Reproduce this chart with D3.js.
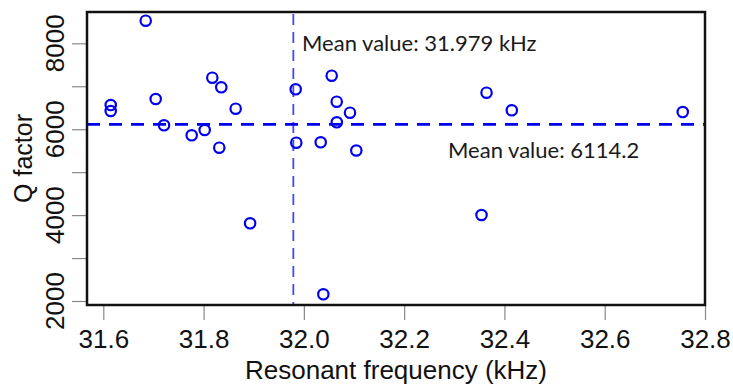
<!DOCTYPE html>
<html>
<head>
<meta charset="utf-8">
<script src="https://cdn.jsdelivr.net/npm/d3@7"></script>
<style>
  body { margin: 0; background: #fff; }
  svg { display: block; }
</style>
</head>
<body>
<div id="chart"></div>
<script>
// resonant frequency (kHz) and Q factor
const freq = [31.6846, 31.6148, 31.6148, 31.7045, 31.7211, 31.8174, 31.8353, 31.8640,
  31.7763, 31.8022, 31.8313, 31.9837, 31.9849, 32.0336, 32.0555, 32.0655, 32.0920,
  32.0657, 32.1046, 31.8928, 32.0388, 32.3543, 32.3643, 32.4147, 32.7556];
const qFactor = [8526, 6563, 6424, 6703, 6091, 7199, 6976, 6477,
  5858, 5981, 5569, 6929, 5686, 5695, 7246, 6640, 6384,
  6161, 5504, 3809, 2156, 4002, 6850, 6440, 6400];

const meanFreq = 31.979;
const meanQ = 6114.2;

const xTicks = [31.6, 31.8, 32.0, 32.2, 32.4, 32.6, 32.8];
const yTicks = [2000, 3000, 4000, 5000, 6000, 7000, 8000];
const yLabels = [2000, 4000, 6000, 8000];

const width = 733, height = 385;
const margin = { top: 12, right: 28, bottom: 80, left: 87 };
const innerW = width - margin.left - margin.right;
const innerH = height - margin.top - margin.bottom;

const svg = d3.select("#chart").append("svg")
  .attr("width", width)
  .attr("height", height);

const x = d3.scaleLinear().domain([31.5675, 32.8]).range([margin.left, margin.left + innerW]);
const y = d3.scaleLinear().domain([1907, 8729]).range([margin.top + innerH, margin.top]);

const data = freq.map((f, i) => ({ f: f, q: qFactor[i] }));

// axes
const xAxis = svg.append("g")
  .attr("transform", `translate(0,${margin.top + innerH})`)
  .call(d3.axisBottom(x).tickValues(xTicks).tickSize(15).tickPadding(10)
    .tickFormat(d3.format(".1f")));
xAxis.select(".domain").remove();
xAxis.selectAll("line").attr("stroke", "#888").attr("stroke-width", 1.2);
xAxis.selectAll("text")
  .attr("font-family", "Liberation Sans, Arial, sans-serif")
  .attr("font-size", 26)
  .attr("fill", "#111")
  .attr("dy", "0.71em");

const yAxis = svg.append("g")
  .attr("transform", `translate(${margin.left},0)`)
  .call(d3.axisLeft(y).tickValues(yTicks).tickSize(15).tickFormat(""));
yAxis.select(".domain").remove();
yAxis.selectAll("line").attr("stroke", "#888").attr("stroke-width", 1.2);

svg.append("g").selectAll("text")
  .data(yLabels)
  .join("text")
  .attr("transform", (d) => `translate(64,${y(d)}) rotate(-90)`)
  .attr("text-anchor", "middle")
  .attr("font-family", "Liberation Sans, Arial, sans-serif")
  .attr("font-size", 26)
  .attr("fill", "#111")
  .text((d) => d);

// axis titles
svg.append("text")
  .attr("x", margin.left + innerW / 2)
  .attr("y", 379)
  .attr("text-anchor", "middle")
  .attr("font-family", "Liberation Sans, Arial, sans-serif")
  .attr("font-size", 26)
  .attr("fill", "#111")
  .text("Resonant frequency (kHz)");

svg.append("text")
  .attr("transform", `translate(32,${margin.top + innerH / 2}) rotate(-90)`)
  .attr("text-anchor", "middle")
  .attr("font-family", "Liberation Sans, Arial, sans-serif")
  .attr("font-size", 25)
  .attr("fill", "#111")
  .text("Q factor");

// mean lines
svg.append("line")
  .attr("x1", x(meanFreq)).attr("x2", x(meanFreq))
  .attr("y1", margin.top).attr("y2", margin.top + innerH)
  .attr("stroke", "#4848ee")
  .attr("stroke-width", 1.8)
  .attr("stroke-dasharray", "11 7")
  .attr("stroke-dashoffset", -2);

svg.append("line")
  .attr("x1", margin.left).attr("x2", margin.left + innerW)
  .attr("y1", y(meanQ)).attr("y2", y(meanQ))
  .attr("stroke", "#0000ee")
  .attr("stroke-width", 2.8)
  .attr("stroke-dasharray", "13 9");

// points
svg.append("g").selectAll("circle")
  .data(data)
  .join("circle")
  .attr("cx", (d) => x(d.f))
  .attr("cy", (d) => y(d.q))
  .attr("r", 5.2)
  .attr("fill", "none")
  .attr("stroke", "#0000ee")
  .attr("stroke-width", 2.2);

// annotations
svg.append("text")
  .attr("x", 302)
  .attr("y", 51)
  .attr("font-family", "Lato, sans-serif")
  .attr("font-size", 22)
  .attr("fill", "#1a1a1a")
  .text("Mean value: " + meanFreq + " kHz");

svg.append("text")
  .attr("x", 448)
  .attr("y", 158)
  .attr("font-family", "Lato, sans-serif")
  .attr("font-size", 22)
  .attr("fill", "#1a1a1a")
  .text("Mean value: " + meanQ);

// plot box
svg.append("rect")
  .attr("x", margin.left)
  .attr("y", margin.top)
  .attr("width", innerW)
  .attr("height", innerH)
  .attr("fill", "none")
  .attr("stroke", "#111")
  .attr("stroke-width", 2.5);
</script>
</body>
</html>
